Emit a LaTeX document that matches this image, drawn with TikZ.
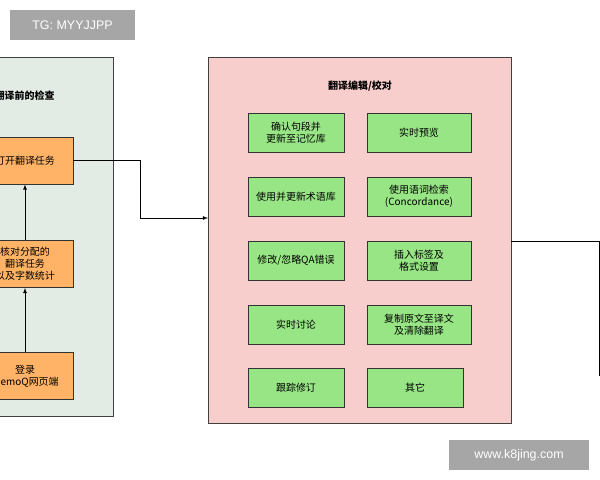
\documentclass[tikz,border=0pt]{standalone}
\usepackage{fontspec}
\setmainfont{Noto Sans CJK SC}
\newfontfamily\markfont{Liberation Sans}
\usetikzlibrary{positioning}
\definecolor{panelgreen}{HTML}{E3ECE4}
\definecolor{panelpink}{HTML}{F8CECC}
\definecolor{boxorange}{HTML}{FFB366}
\definecolor{boxgreen}{HTML}{97E584}
\tikzset{
	stepbox/.style={draw=black!80, thick, fill=boxorange, minimum width=96bp, minimum height=47bp, align=center, font=\fontsize{10}{12}\selectfont},
	editbox/.style={draw=black!80, thick, fill=boxgreen, minimum height=39bp, align=center, font=\fontsize{10}{12}\selectfont},
	wmark/.style={fill=black!35, text=white, inner sep=0pt, font=\markfont\fontsize{12.5}{14}\selectfont},
	flow/.style={thick, -latex},
}
\begin{document}
\begin{tikzpicture}[x=1bp, y=-1bp]
	\useasboundingbox (0,0) rectangle (600,480);
	
	% panels
	\draw [fill=panelgreen, draw=black!75] (-120,57) rectangle (113,416);
	\draw [fill=panelpink, draw=black!75] (208,57) rectangle (511,423);
	\node [anchor=east, font=\bfseries\fontsize{10}{11}\selectfont] (pretitle) at (58,96) {翻译前的检查};
	\node [font=\bfseries\fontsize{10}{11}\selectfont] (edittitle) at (360,86) {翻译编辑/校对};
	
	% left column
	\node [stepbox] (open) at (25,160.5) {打开翻译任务};
	\node [stepbox] (check) at (25,264) {核对分配的\\翻译任务\\以及字数统计};
	\node [stepbox] (login) at (25,376) {登录\\memoQ网页端};
	\draw [flow] (login) -- (check);
	\draw [flow] (check) -- (open);
	
	% edit tasks
	\foreach \name/\y/\txt in {confirm/133/确认句段并\\更新至记忆库, term/196.5/使用并更新术语库, qa/260.5/{修改/忽略QA错误}, chat/324.5/实时讨论, track/388/跟踪修订}
		\node [editbox, minimum width=96bp] (\name) at (296,\y) {\txt};
	\foreach \name/\y/\txt in {preview/133/实时预览, conc/196.5/使用语词检索\\(Concordance), tags/260.5/插入标签及\\格式设置, copy/324.5/复制原文至译文\\及清除翻译}
		\node [editbox, minimum width=104bp] (\name) at (419,\y) {\txt};
	\node [editbox, minimum width=96bp] (other) at (415,388) {其它};
	
	% connectors
	\coordinate (editin) at (208,218);
	\coordinate (editout) at (511,241);
	\coordinate (exitend) at (599,376);
	\draw [flow] (open.east) -- (140,160.5) |- (editin);
	\draw [thick] (editout) -| (exitend);
	
	% watermarks
	\node [wmark, minimum width=125bp, minimum height=30bp] (tg) at (72.5,25) {TG: MYYJJPP};
	\node [wmark, minimum width=140bp, minimum height=30bp] (site) at (519,455) {www.k8jing.com};
\end{tikzpicture}
\end{document}
